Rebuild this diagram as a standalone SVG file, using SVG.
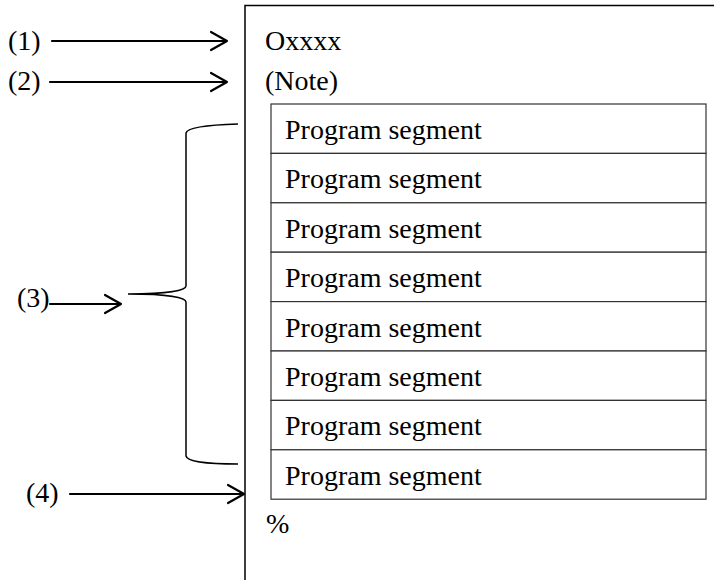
<svg xmlns="http://www.w3.org/2000/svg" width="716" height="580" viewBox="0 0 716 580">
<style>
text{font-family:"Liberation Serif","Times New Roman",serif;font-size:28px;fill:#000}
.frame{fill:none;stroke:#000;stroke-width:1.5}
.row{fill:#fff;stroke:#333;stroke-width:1.2}
.arr{fill:none;stroke:#000;stroke-width:2.2;stroke-linecap:round;stroke-linejoin:round}
.brace{fill:none;stroke:#000;stroke-width:1.5}
</style>
<rect width="716" height="580" fill="#fff"/>
<g id="frame">
<path class="frame" d="M245,580 V5.5 H714"/>
<text x="265" y="50">Oxxxx</text>
<text x="265" y="90">(Note)</text>
<text x="266" y="533">%</text>
</g>
<g id="table">
<rect class="row" x="271" y="104" width="435" height="49.4"/>
<rect class="row" x="271" y="153.4" width="435" height="49.4"/>
<rect class="row" x="271" y="202.8" width="435" height="49.4"/>
<rect class="row" x="271" y="252.2" width="435" height="49.4"/>
<rect class="row" x="271" y="301.6" width="435" height="49.4"/>
<rect class="row" x="271" y="351" width="435" height="49.4"/>
<rect class="row" x="271" y="400.4" width="435" height="49.4"/>
<rect class="row" x="271" y="449.8" width="435" height="49.4"/>
<text x="285" y="139">Program segment</text>
<text x="285" y="188.4">Program segment</text>
<text x="285" y="237.8">Program segment</text>
<text x="285" y="287.2">Program segment</text>
<text x="285" y="336.6">Program segment</text>
<text x="285" y="386">Program segment</text>
<text x="285" y="435.4">Program segment</text>
<text x="285" y="484.8">Program segment</text>
</g>
<g id="label1"><text x="8" y="50">(1)</text></g>
<g id="label2"><text x="8" y="90">(2)</text></g>
<g id="label3"><text x="17" y="307">(3)</text></g>
<g id="label4"><text x="26" y="502">(4)</text></g>
<g id="brace">
<path class="brace" d="M238,124 C205,125 187,128 186,133 V286 C186,290 170,294 128,294 C170,294 186,298 186,302 V456 C187,461 205,464 238,464"/>
</g>
<g id="connectors">
<path class="arr" d="M52,41 H227 M211,32 L227,41 L211,50"/>
<path class="arr" d="M50,82 H227 M211,73 L227,82 L211,91"/>
<path class="arr" d="M50,304 H121 M105,295 L121,304 L105,313"/>
<path class="arr" d="M70,494 H244 M228,485 L244,494 L228,503"/>
</g>
</svg>
